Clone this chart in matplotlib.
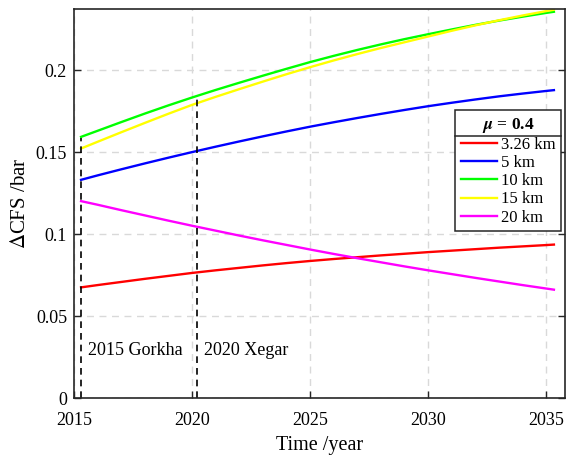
import numpy as np
import matplotlib.pyplot as plt
from matplotlib.lines import Line2D

plt.rcParams['font.family'] = ['Liberation Serif', 'DejaVu Serif']
plt.rcParams['mathtext.fontset'] = 'stix'

# Coulomb stress change through time for several source depths
years = [2015.3, 2016, 2017, 2018, 2019, 2020, 2021, 2022, 2023, 2024, 2025,
         2026, 2027, 2028, 2029, 2030, 2031, 2032, 2033, 2034, 2035, 2035.33]
depth_labels = ['3.26 km', '5 km', '10 km', '15 km', '20 km']
cfs_326 = [0.0675, 0.0689, 0.0708, 0.0727, 0.0745, 0.0763, 0.0779, 0.0794, 0.0809, 0.0823, 0.0836,
           0.0848, 0.0859, 0.0870, 0.0880, 0.0890, 0.0899, 0.0908, 0.0917, 0.0925, 0.0933, 0.0936]
cfs_5 = [0.1331, 0.1358, 0.1395, 0.1431, 0.1466, 0.1500, 0.1533, 0.1565, 0.1596, 0.1626, 0.1655,
         0.1682, 0.1708, 0.1733, 0.1757, 0.1780, 0.1801, 0.1821, 0.1840, 0.1857, 0.1873, 0.1878]
cfs_10 = [0.1593, 0.1630, 0.1683, 0.1735, 0.1785, 0.1833, 0.1879, 0.1923, 0.1966, 0.2008, 0.2049,
          0.2087, 0.2123, 0.2157, 0.2189, 0.2219, 0.2248, 0.2276, 0.2302, 0.2326, 0.2349, 0.2356]
cfs_15 = [0.1522, 0.1563, 0.1621, 0.1678, 0.1734, 0.1788, 0.1837, 0.1884, 0.1930, 0.1975, 0.2018,
          0.2059, 0.2098, 0.2135, 0.2170, 0.2205, 0.2240, 0.2273, 0.2304, 0.2333, 0.2360, 0.2368]
cfs_20 = [0.1201, 0.1179, 0.1146, 0.1114, 0.1082, 0.1051, 0.1021, 0.0991, 0.0962, 0.0934, 0.0906,
          0.0879, 0.0853, 0.0828, 0.0803, 0.0779, 0.0756, 0.0733, 0.0711, 0.0689, 0.0668, 0.0661]
colors = ['#ff0000', '#0000ff', '#00ff00', '#ffff00', '#ff00ff']

# earthquakes marked with dashed lines
event_years = [2015.3, 2020.2]
event_tops = [0.1585, 0.183]
event_names = ['2015 Gorkha', '2020 Xegar']

fig = plt.figure(figsize=(5.67, 4.57), dpi=100)
ax = fig.add_axes([0.1305, 0.129, 0.866, 0.851])

for yv, c, lab in zip([cfs_326, cfs_5, cfs_10, cfs_15, cfs_20], colors, depth_labels):
    ax.plot(years, yv, color=c, lw=1.7, label=lab)

for x, top, name in zip(event_years, event_tops, event_names):
    ax.plot([x, x], [0, top], color='black', ls=(0, (4, 3)), lw=1.2)
    ax.text(x + 0.3, 0.029, name, fontsize=13, va='center', ha='left')

ax.set_xlim(2015, 2035.8)
ax.set_ylim(0, 0.2372)
ax.set_xticks([2015, 2020, 2025, 2030, 2035])
ax.set_yticks([0, 0.05, 0.1, 0.15, 0.2])
ax.set_yticklabels(['0', '0.05', '0.1', '0.15', '0.2'])
ax.tick_params(direction='in', length=5, width=1, labelsize=13, colors='#262626',
               top=False, right=True)
ax.tick_params(axis='x', pad=10)
ax.tick_params(axis='y', pad=5)
ax.tick_params(axis='both', labelcolor='black')
for s in ax.spines.values():
    s.set_color('#262626')
    s.set_linewidth(1.2)
ax.grid(True, color='#d9d9d9', ls=(0, (5, 4)), lw=1.0)
ax.set_axisbelow(True)

ax.set_xlabel('Time /year', fontsize=14.5, labelpad=5)
ax.set_ylabel(r'$\Delta$CFS /bar', fontsize=15, labelpad=4)

leg = ax.legend(loc='upper left', bbox_to_anchor=(0.776, 0.740), fontsize=12,
                title=r'$\boldsymbol{\mu}$ = 0.4', title_fontproperties={'size': 12.5, 'weight': 'bold'},
                frameon=True, fancybox=False, edgecolor='#262626', framealpha=1,
                handlelength=2.2, handletextpad=0.2, labelspacing=0.13,
                borderpad=0.33, borderaxespad=0)
leg.get_frame().set_linewidth(1.1)

# rule under the legend title
fig.canvas.draw()
fb = leg.get_frame().get_window_extent()
tb = leg.get_title().get_window_extent()
inv = fig.transFigure.inverted()
x0, y0 = inv.transform((fb.x0, tb.y0 - 1))
x1, _ = inv.transform((fb.x1, tb.y0 - 1))
fig.add_artist(Line2D([x0, x1], [y0, y0], color='#262626', lw=1.1, transform=fig.transFigure))

fig.savefig('out.png', dpi=100)
